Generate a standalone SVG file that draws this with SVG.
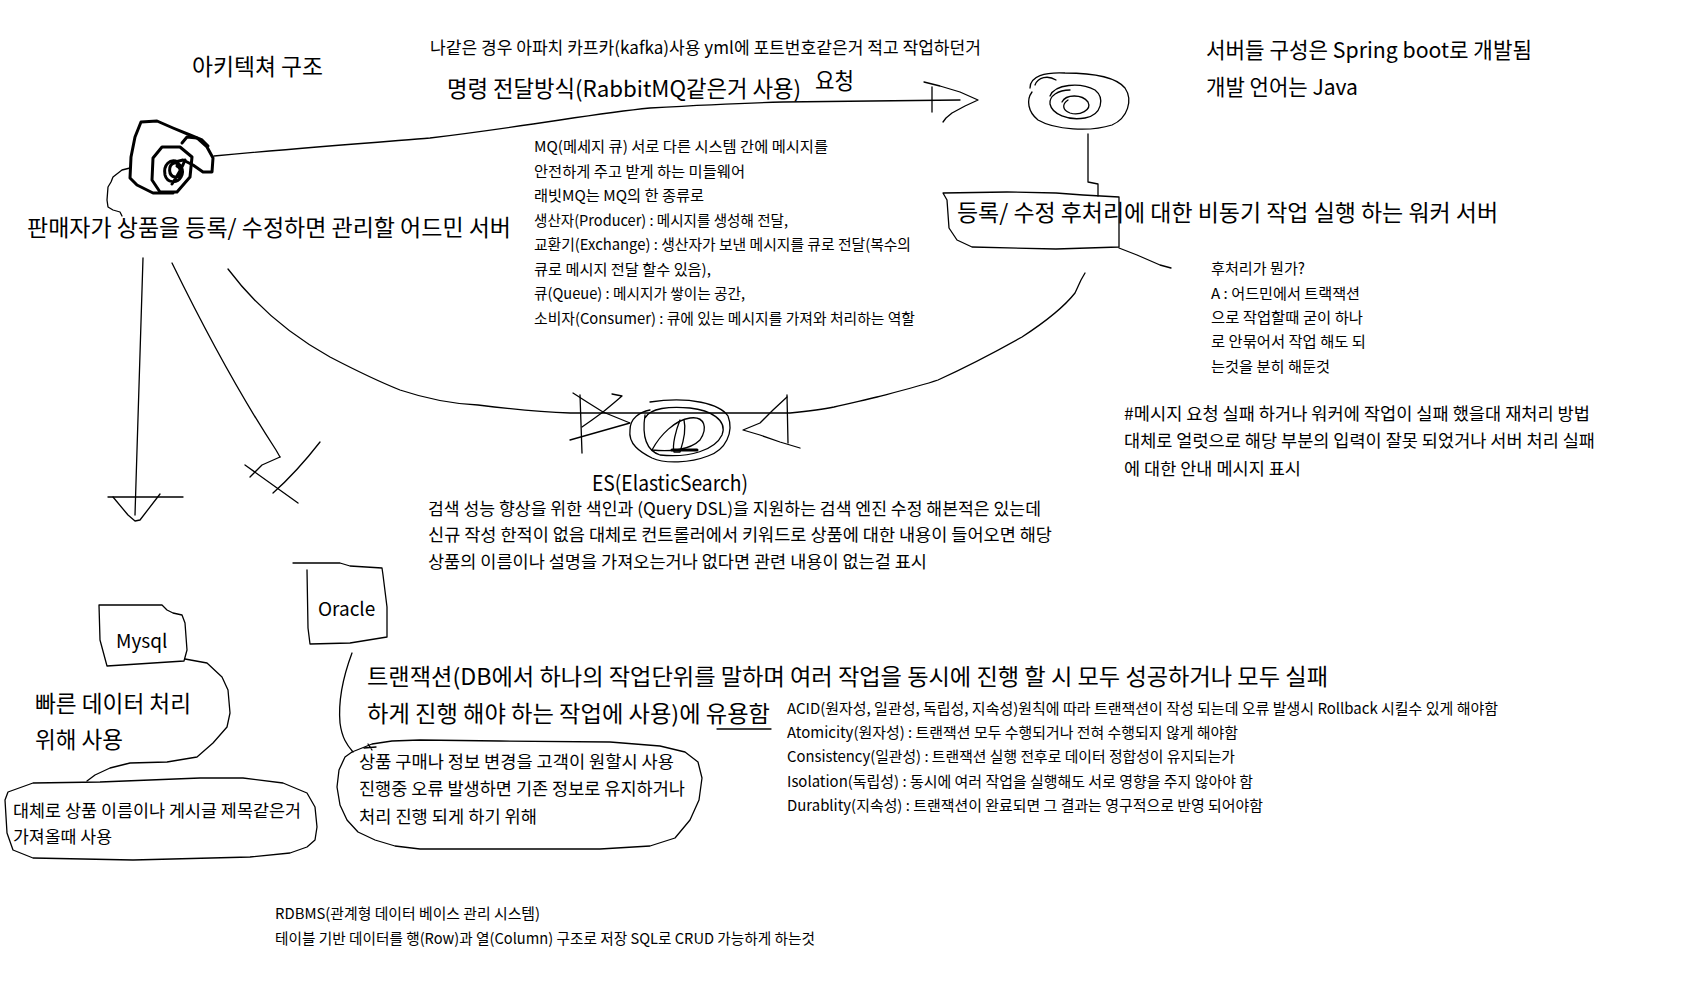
<svg xmlns="http://www.w3.org/2000/svg" width="1686" height="983" viewBox="0 0 1686 983">
<style>
text { font-family: 'Noto Sans CJK KR', 'Noto Sans', sans-serif; fill: #000; }
.L { font-size: 22.5px; }
.M { font-size: 17px; }
.S { font-size: 15px; }
.N { font-size: 19px; }
.ln { fill: none; stroke: #000; stroke-width: 1.3; stroke-linejoin: round; stroke-linecap: round; }
.bd { fill: none; stroke: #000; stroke-width: 3; stroke-linejoin: round; stroke-linecap: round; }
</style>
<rect width="1686" height="983" fill="#fff"/>

<g id="connectors">
  <path class="ln" d="M214,156 C300,148 380,142 430,138 C480,132 520,126 560,120 C600,114 630,110 650,108 C700,105 740,103 783,102 L960,100"/>
  <path class="ln" d="M924,82 L940,86 L960,92 L978,100 L965,106 L952,113 L946,118 L943,122"/>
  <path class="ln" d="M932,87 L932,112"/>
  <path class="ln" d="M1088,134 L1088,182 L1098,184 L1098,196"/>
  <path class="ln" d="M1119,248 L1137,255 L1160,265 L1171,268"/>
  <path class="ln" d="M228,269 C255,305 290,335 330,357 C355,370 380,382 400,390 C430,400 455,404 478,405 C510,409 540,412 570,413 L790,413 C810,411 820,410 834,407 C850,403 865,400 877,397 C900,391 920,386 938,380 C960,370 990,355 1022,337 C1045,322 1064,307 1075,293 L1081,280 L1085,273"/>
  <path class="ln" d="M580,395 L582,453"/>
  <path class="ln" d="M573,393 L587,402 L603,412 L630,423 L570,440"/>
  <path class="ln" d="M582,427 L592,420 L603,412 L615,402 L622,396 L612,394"/>
  <path class="ln" d="M787,397 L773,410 L760,423 L743,430 L760,435 L780,442 L800,448"/>
  <path class="ln" d="M787,395 L788,443"/>
  <path class="ln" d="M143,258 L137,450 L135,515"/>
  <path class="ln" d="M108,497 L183,497"/>
  <path class="ln" d="M113,497 L128,515 L135,521 L140,520 L160,494"/>
  <path class="ln" d="M172,263 C195,310 230,380 276,450 L280,457"/>
  <path class="ln" d="M280,457 L262,465 L250,477"/>
  <path class="ln" d="M245,465 L298,503"/>
  <path class="ln" d="M320,442 C306,460 290,478 273,493"/>
  <path class="ln" d="M130,168 L122,170 L113,177 L111,182 L108,187 L107,200 L108,207 L113,210 L120,212 L122,216"/>
  <path class="ln" d="M352,653 C343,677 338,700 340,723 C342,738 347,745 353,752"/>
  <path class="ln" d="M368,744 L372,750 M364,748 L376,747"/>
</g>

<g id="node-admin">
  <path class="bd" d="M173,193 L153,193 L137,185 L130,178 L131,157 L135,137 L141,122 L157,121 L173,128 L190,135 L202,140 L208,146"/>
  <path class="bd" d="M162,147 L180,147 L192,157 L190,177 L177,192 L160,192 L152,180 L153,158 Z"/>
  <path class="bd" d="M182,143 L187,137 L197,138 L207,147 L213,158 L212,172 L203,172 L193,165 L183,160 L175,162"/>
  <path class="bd" d="M178,162 C170,158 163,165 165,175 C167,183 177,184 181,177 C185,170 180,162 174,163 C168,165 168,176 175,177 C181,178 182,168 177,166 M172,184 C176,178 182,168 185,160"/>
  <text class="L" x="27" y="236" textLength="484" lengthAdjust="spacingAndGlyphs">판매자가 상품을 등록/ 수정하면 관리할 어드민 서버</text>
</g>

<g id="node-worker">
  <path class="ln" d="M1030,88 C1030,76 1045,72 1065,73 C1090,73 1115,76 1125,88 C1133,100 1128,118 1112,125 C1090,132 1055,130 1038,120 C1028,112 1026,100 1032,92"/>
  <path class="ln" d="M1050,96 C1055,84 1080,82 1095,90 C1105,98 1102,115 1085,118 C1068,121 1052,114 1050,104 C1049,96 1058,90 1070,90"/>
  <path class="ln" d="M1062,102 C1066,94 1082,94 1088,102 C1092,110 1080,116 1070,113 C1062,110 1062,104 1068,100"/>
  <path class="ln" d="M1035,85 C1038,77 1048,75 1056,80"/>
  <path class="ln" d="M943,193 L1007,192 L1056,193 L1083,195 L1119,197 L1119,247 L1056,249 L972,247 L957,240 L949,228 L947,200 Z"/>
  <text class="L" x="957" y="221" textLength="541" lengthAdjust="spacingAndGlyphs">등록/ 수정 후처리에 대한 비동기 작업 실행 하는 워커 서버</text>
</g>

<g id="node-es">
  <path class="ln" d="M650,402 C690,396 720,404 728,416 C734,432 726,450 708,456 C690,463 665,464 652,458 C640,452 628,444 630,430 C630,418 640,412 650,410"/>
  <path class="ln" d="M645,415 C642,435 645,450 660,455 C690,458 715,450 722,435 C728,420 710,410 690,408 C670,406 650,408 645,418"/>
  <path class="ln" d="M652,450 C660,435 675,420 690,418 C705,416 708,428 700,440 C690,450 670,452 652,450"/>
  <path class="ln" d="M680,420 C676,430 672,445 674,452 L680,452 C684,440 686,428 684,420"/>
  <path class="bd" d="M672,450 L697,450"/>
  <text x="592" y="491" style="font-size:21px" textLength="156" lengthAdjust="spacingAndGlyphs">ES(ElasticSearch)</text>
</g>

<g id="node-mysql">
  <path class="ln" d="M99,605 L162,605 L167,610 L173,613 L182,615 L185,623 L187,650 L184,661 L107,666 L100,640 Z"/>
  <text class="N" x="116" y="648">Mysql</text>
  <path class="ln" d="M185,659 L207,663 L222,677 L228,690 L230,713 L227,727 L213,743 L197,757 L167,762 L130,763 L110,768 L95,775 L87,781"/>
  <path class="ln" d="M8,792 L33,783 L100,782 L200,778 L243,778 L283,783 L307,793 L315,807 L317,827 L315,840 L307,847 L290,853 L250,857 L133,860 L33,858 L13,850 L7,833 L5,800 Z"/>
  <text class="L" x="35" y="712" textLength="156" lengthAdjust="spacingAndGlyphs">빠른 데이터 처리</text>
  <text class="L" x="35" y="748" textLength="88" lengthAdjust="spacingAndGlyphs">위해 사용</text>
  <text class="M" x="13" y="817" textLength="288" lengthAdjust="spacingAndGlyphs">대체로 상품 이름이나 게시글 제목같은거</text>
  <text class="M" x="13" y="843" textLength="99" lengthAdjust="spacingAndGlyphs">가져올때 사용</text>
</g>

<g id="node-oracle">
  <path class="ln" d="M293,563 L340,563 L350,566 L382,568 L383,575 L387,607 L387,637 L350,643 L310,644 L308,628 L307,570"/>
  <text class="N" x="318" y="616">Oracle</text>
  <path class="ln" d="M352,752 L372,744 L392,741 L420,740 L500,741 L610,742 L660,746 L685,752 L698,762 L702,778 L699,800 L690,820 L675,838 L650,846 L600,849 L420,849 L395,846 L375,840 L358,832 L347,820 L340,805 L337,787 L339,770 L345,757 Z"/>
  <text class="M" x="359" y="768" textLength="315" lengthAdjust="spacingAndGlyphs">상품 구매나 정보 변경을 고객이 원할시 사용</text>
  <text class="M" x="359" y="795" textLength="326" lengthAdjust="spacingAndGlyphs">진행중 오류 발생하면 기존 정보로 유지하거나</text>
  <text class="M" x="359" y="823" textLength="178" lengthAdjust="spacingAndGlyphs">처리 진행 되게 하기 위해</text>
  <text class="L" x="367" y="685" textLength="961" lengthAdjust="spacingAndGlyphs">트랜잭션(DB에서 하나의 작업단위를 말하며 여러 작업을 동시에 진행 할 시 모두 성공하거나 모두 실패</text>
  <text class="L" x="367" y="722" textLength="403" lengthAdjust="spacingAndGlyphs">하게 진행 해야 하는 작업에 사용)에 유용함</text>
  <path class="ln" d="M717,729 L771,729"/>
</g>

<g id="notes">
  <text class="L" x="192" y="75" textLength="131" lengthAdjust="spacingAndGlyphs">아키텍쳐 구조</text>
  <text class="M" x="430" y="54" textLength="551" lengthAdjust="spacingAndGlyphs">나같은 경우 아파치 카프카(kafka)사용 yml에 포트번호같은거 적고 작업하던거</text>
  <text class="L" x="447" y="97" textLength="354" lengthAdjust="spacingAndGlyphs">명령 전달방식(RabbitMQ같은거 사용)</text>
  <text class="L" x="815" y="89" textLength="39" lengthAdjust="spacingAndGlyphs">요청</text>
  <text x="1206" y="58" style="font-size:21.5px" textLength="326" lengthAdjust="spacingAndGlyphs">서버들 구성은 Spring boot로 개발됨</text>
  <text x="1206" y="95" style="font-size:21.5px" textLength="152" lengthAdjust="spacingAndGlyphs">개발 언어는 Java</text>
  <text class="S" x="534" y="152" textLength="294" lengthAdjust="spacingAndGlyphs">MQ(메세지 큐) 서로 다른 시스템 간에 메시지를</text>
  <text class="S" x="534" y="176.5" textLength="211" lengthAdjust="spacingAndGlyphs">안전하게 주고 받게 하는 미들웨어</text>
  <text class="S" x="534" y="201" textLength="170" lengthAdjust="spacingAndGlyphs">래빗MQ는 MQ의 한 종류로</text>
  <text class="S" x="534" y="225.5" textLength="254" lengthAdjust="spacingAndGlyphs">생산자(Producer) : 메시지를 생성해 전달,</text>
  <text class="S" x="534" y="250" textLength="377" lengthAdjust="spacingAndGlyphs">교환기(Exchange) : 생산자가 보낸 메시지를 큐로 전달(복수의</text>
  <text class="S" x="534" y="274.5" textLength="177" lengthAdjust="spacingAndGlyphs">큐로 메시지 전달 할수 있음),</text>
  <text class="S" x="534" y="299" textLength="211" lengthAdjust="spacingAndGlyphs">큐(Queue) : 메시지가 쌓이는 공간,</text>
  <text class="S" x="534" y="323.5" textLength="381" lengthAdjust="spacingAndGlyphs">소비자(Consumer) : 큐에 있는 메시지를 가져와 처리하는 역할</text>
  <text class="S" x="1211" y="274" textLength="94" lengthAdjust="spacingAndGlyphs">후처리가 뭔가?</text>
  <text class="S" x="1211" y="299" textLength="149" lengthAdjust="spacingAndGlyphs">A : 어드민에서 트랙잭션</text>
  <text class="S" x="1211" y="323" textLength="152" lengthAdjust="spacingAndGlyphs">으로 작업할때 굳이 하나</text>
  <text class="S" x="1211" y="347" textLength="155" lengthAdjust="spacingAndGlyphs">로 안묶어서 작업 해도 되</text>
  <text class="S" x="1211" y="372" textLength="119" lengthAdjust="spacingAndGlyphs">는것을 분히 해둔것</text>
  <text class="M" x="1124" y="420" textLength="466" lengthAdjust="spacingAndGlyphs">#메시지 요청 실패 하거나 워커에 작업이 실패 했을대 재처리 방법</text>
  <text class="M" x="1124" y="447" textLength="471" lengthAdjust="spacingAndGlyphs">대체로 얼럿으로 해당 부분의 입력이 잘못 되었거나 서버 처리 실패</text>
  <text class="M" x="1124" y="475" textLength="177" lengthAdjust="spacingAndGlyphs">에 대한 안내 메시지 표시</text>
  <text class="M" x="428" y="515" textLength="613" lengthAdjust="spacingAndGlyphs">검색 성능 향상을 위한 색인과 (Query DSL)을 지원하는 검색 엔진 수정 해본적은 있는데</text>
  <text class="M" x="428" y="541" textLength="624" lengthAdjust="spacingAndGlyphs">신규 작성 한적이 없음 대체로 컨트롤러에서 키워드로 상품에 대한 내용이 들어오면 해당</text>
  <text class="M" x="428" y="568" textLength="499" lengthAdjust="spacingAndGlyphs">상품의 이름이나 설명을 가져오는거나 없다면 관련 내용이 없는걸 표시</text>
  <text class="S" x="787" y="714" textLength="711" lengthAdjust="spacingAndGlyphs">ACID(원자성, 일관성, 독립성, 지속성)원칙에 따라 트랜잭션이 작성 되는데 오류 발생시 Rollback 시킬수 있게 해야함</text>
  <text class="S" x="787" y="738" textLength="451" lengthAdjust="spacingAndGlyphs">Atomicity(원자성) : 트랜잭션 모두 수행되거나 전혀 수행되지 않게 해야함</text>
  <text class="S" x="787" y="762" textLength="448" lengthAdjust="spacingAndGlyphs">Consistency(일관성) : 트랜잭션 실행 전후로 데이터 정합성이 유지되는가</text>
  <text class="S" x="787" y="787" textLength="466" lengthAdjust="spacingAndGlyphs">Isolation(독립성) : 동시에 여러 작업을 실행해도 서로 영향을 주지 않아야 함</text>
  <text class="S" x="787" y="811" textLength="476" lengthAdjust="spacingAndGlyphs">Durablity(지속성) : 트랜잭션이 완료되면 그 결과는 영구적으로 반영 되어야함</text>
  <text class="S" x="275" y="919" textLength="265" lengthAdjust="spacingAndGlyphs">RDBMS(관계형 데이터 베이스 관리 시스템)</text>
  <text class="S" x="275" y="944" textLength="540" lengthAdjust="spacingAndGlyphs">테이블 기반 데이터를 행(Row)과 열(Column) 구조로 저장 SQL로 CRUD 가능하게 하는것</text>
</g>
</svg>
